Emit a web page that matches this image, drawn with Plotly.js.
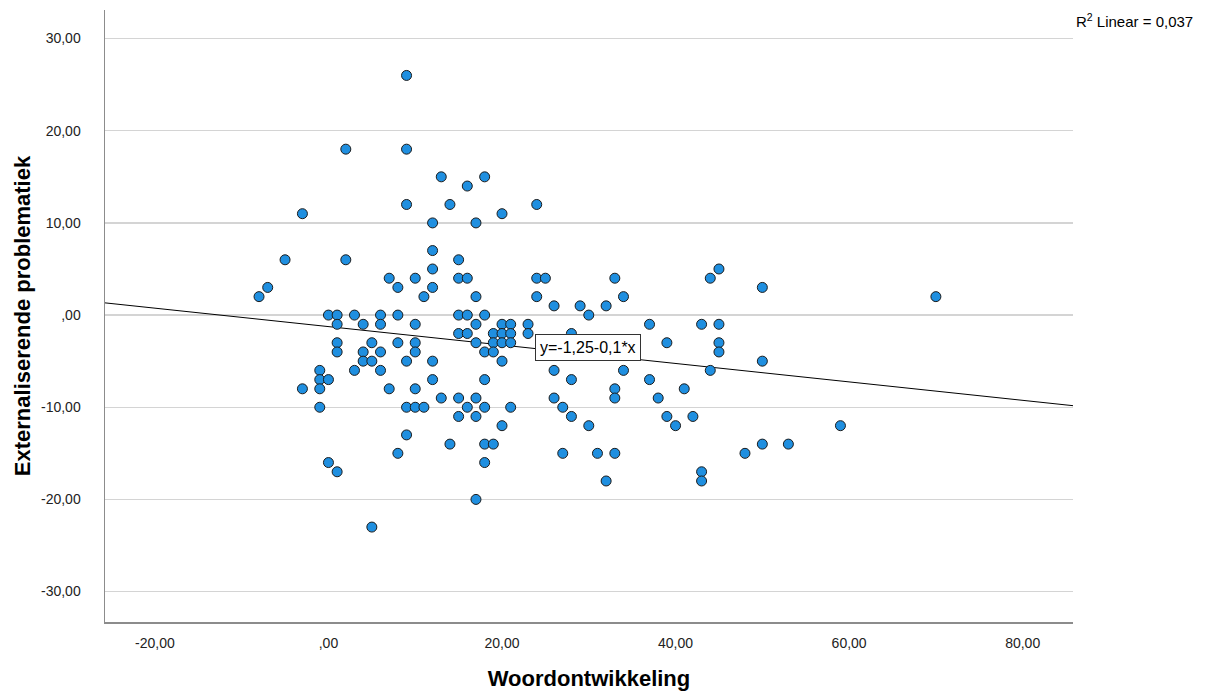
<!DOCTYPE html>
<html>
<head>
<meta charset="utf-8">
<script src="https://cdn.plot.ly/plotly-3.0.1.min.js"></script>
<style>
html,body{margin:0;padding:0;background:#fff;}
#chart{width:1205px;height:697px;}
</style>
</head>
<body>
<div id="chart"></div>
<script>
// Woordontwikkeling (x) and Externaliserende problematiek (y)
var woordontwikkeling = [
  9,2,9,13,9,-3,12,-5,2,12,12,7,10,-7,8,12,-8,11,
  0,1,3,6,8,
  1,4,6,10,
  1,5,8,10,
  1,4,6,10,
  4,5,9,12,
  -1,3,6,
  -1,0,12,
  -3,-1,7,10,
  13,
  -1,9,10,11,
  9,8,0,1,5,
  16,18,14,24,20,17,15,15,16,24,25,33,17,24,34,26,29,32,30,15,16,18,
  17,20,21,23,15,16,19,20,21,23,28,17,19,20,21,25,31,
  18,19,20,26,18,28,33,33,15,17,26,16,18,21,27,15,17,28,20,30,14,18,19,27,31,33,18,32,17,
  44,45,50,37,43,45,39,45,45,34,34,50,44,37,38,41,39,40,42,48,50,53,43,43,
  70,59
];
var externaliserend = [
  26,18,18,15,12,11,10,6,6,7,5,4,4,3,3,3,2,2,
  0,0,0,0,0,
  -1,-1,-1,-1,
  -3,-3,-3,-3,
  -4,-4,-4,-4,
  -5,-5,-5,-5,
  -6,-6,-6,
  -7,-7,-7,
  -8,-8,-8,-8,
  -9,
  -10,-10,-10,-10,
  -13,-15,-16,-17,-23,
  14,15,12,12,11,10,6,4,4,4,4,4,2,2,2,1,1,1,0,0,0,0,
  -1,-1,-1,-1,-2,-2,-2,-2,-2,-2,-2,-3,-3,-3,-3,-3,-3,
  -4,-4,-5,-6,-7,-7,-8,-9,-9,-9,-9,-10,-10,-10,-10,-11,-11,-11,-12,-12,-14,-14,-14,-15,-15,-15,-16,-18,-20,
  4,5,3,-1,-1,-1,-3,-3,-4,-3,-6,-5,-6,-7,-9,-8,-11,-12,-11,-15,-14,-14,-17,-18,
  2,-12
];

var fitIntercept = -1.25;
var fitSlope = -0.1;
var fitLabel = 'y=-1,25-0,1*x';
var r2Label = 'R<sup>2</sup> Linear = 0,037';

var xRange = [-25.75, 85.8];
var yRange = [-33.3, 33.1];

var xTickVals = [-20, 0, 20, 40, 60, 80];
var xTickText = ['-20,00', ',00', '20,00', '40,00', '60,00', '80,00'];
var yTickVals = [-30, -20, -10, 0, 10, 20, 30];
var yTickText = ['-30,00', '-20,00', '-10,00', ',00', '10,00', '20,00', '30,00'];

var xTitle = 'Woordontwikkeling';
var yTitle = 'Externaliserende problematiek';

var fitX = xRange.slice();
var fitY = fitX.map(function (v) { return fitIntercept + fitSlope * v; });

var FONT = 'Liberation Sans, Arial, sans-serif';

var traces = [
  {
    x: fitX, y: fitY, type: 'scatter', mode: 'lines',
    line: {color: '#000000', width: 1},
    hoverinfo: 'skip', showlegend: false
  },
  {
    x: woordontwikkeling, y: externaliserend, type: 'scatter', mode: 'markers',
    marker: {size: 10, color: '#1f8fe0', line: {color: '#1c1c1c', width: 1}},
    showlegend: false
  }
];

var layout = {
  width: 1205, height: 697,
  margin: {l: 105, r: 132, t: 10, b: 75, pad: 0},
  paper_bgcolor: '#ffffff', plot_bgcolor: '#ffffff',
  font: {family: FONT, color: '#222222'},
  showlegend: false,
  xaxis: {
    range: xRange, autorange: false,
    tickvals: xTickVals, ticktext: xTickText,
    tickfont: {family: FONT, size: 14, color: '#222222'},
    showgrid: false, zeroline: false,
    showline: true, linecolor: '#8c8c8c', linewidth: 1.5,
    ticks: '', ticklabelstandoff: 8,
    title: {text: xTitle, font: {family: FONT, size: 22, color: '#000000', weight: 'bold'}, standoff: 20}
  },
  yaxis: {
    range: yRange, autorange: false,
    tickvals: yTickVals, ticktext: yTickText,
    tickfont: {family: FONT, size: 14, color: '#222222'},
    showgrid: true, gridcolor: '#d4d4d4', gridwidth: 1.5,
    zeroline: false,
    showline: true, linecolor: '#8c8c8c', linewidth: 1.5,
    ticks: '', ticklabelstandoff: 20,
    title: {text: yTitle, font: {family: FONT, size: 22, color: '#000000', weight: 'bold'}, standoff: 4}
  },
  annotations: [
    {
      x: 29.9, y: -3.5, xref: 'x', yref: 'y',
      text: fitLabel, showarrow: false,
      font: {family: FONT, size: 16, color: '#000000'},
      bgcolor: '#ffffff', bordercolor: '#333333', borderwidth: 1, borderpad: 4
    },
    {
      x: 1, y: 1, xref: 'paper', yref: 'paper',
      xanchor: 'left', yanchor: 'top', xshift: 1, yshift: 1,
      text: r2Label, showarrow: false,
      font: {family: FONT, size: 15, color: '#000000'}
    }
  ]
};

Plotly.newPlot('chart', traces, layout, {displayModeBar: false, staticPlot: true});
</script>
</body>
</html>
